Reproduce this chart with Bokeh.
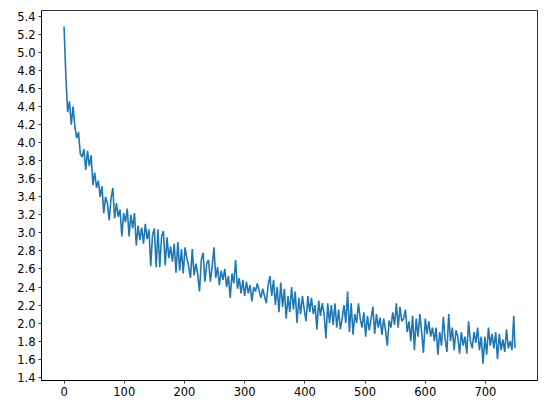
from bokeh.plotting import figure
from bokeh.models import Range1d, FixedTicker, ColumnDataSource, PrintfTickFormatter
from bokeh.embed import file_html
from bokeh.resources import INLINE

# training steps (every 3rd step sampled, plus the last one)
steps = list(range(0, 750, 3)) + [749]

loss = [
    5.29, 4.74, 4.34, 4.46, 4.20, 4.40, 4.18, 4.05, 4.12, 3.88,
    3.84, 3.93, 3.70, 3.91, 3.74, 3.86, 3.53, 3.67, 3.50, 3.58,
    3.40, 3.52, 3.22, 3.40, 3.33, 3.14, 3.38, 3.50, 3.16, 3.33,
    3.18, 3.26, 2.96, 3.22, 3.12, 3.27, 2.96, 3.20, 3.05, 3.22,
    2.86, 3.08, 2.92, 3.06, 2.88, 3.10, 2.93, 3.04, 2.63, 2.98,
    3.05, 2.62, 3.04, 2.62, 2.96, 3.02, 2.64, 2.95, 2.72, 2.85,
    2.68, 2.88, 2.56, 2.90, 2.58, 2.82, 2.55, 2.84, 2.72, 2.63,
    2.50, 2.82, 2.53, 2.66, 2.54, 2.35, 2.70, 2.78, 2.46, 2.66,
    2.70, 2.46, 2.62, 2.84, 2.50, 2.62, 2.42, 2.58, 2.48, 2.60,
    2.40, 2.52, 2.28, 2.55, 2.44, 2.70, 2.38, 2.50, 2.33, 2.48,
    2.30, 2.46, 2.33, 2.42, 2.24, 2.40, 2.35, 2.44, 2.36, 2.28,
    2.38, 2.30, 2.22, 2.42, 2.52, 2.30, 2.48, 2.20, 2.40, 2.12,
    2.45, 2.18, 2.38, 2.05, 2.30, 2.12, 2.40, 2.15, 2.35, 2.00,
    2.28, 2.10, 2.30, 2.15, 2.02, 2.30, 2.12, 2.28, 2.10, 2.20,
    1.93, 2.25, 2.08, 2.22, 2.10, 1.83, 2.22, 2.00, 2.20, 1.98,
    2.22, 1.95, 2.15, 1.93, 2.05, 2.20, 2.00, 2.35, 1.90, 2.22,
    1.87, 2.10, 2.00, 2.22, 2.05, 1.95, 2.12, 1.85, 2.08, 1.92,
    2.05, 2.18, 1.88, 2.10, 1.95, 2.06, 1.87, 2.05, 1.92, 1.75,
    2.03, 1.95, 2.12, 1.98, 2.22, 1.95, 2.18, 2.02, 2.05, 2.15,
    1.90, 2.02, 1.80, 2.08, 1.70, 2.05, 1.85, 2.10, 1.90, 1.67,
    2.05, 1.88, 2.02, 1.85, 1.95, 1.80, 1.95, 1.65, 1.90, 1.75,
    2.07, 1.82, 1.68, 2.10, 1.80, 1.95, 1.70, 1.92, 1.85, 1.66,
    1.90, 1.75, 1.85, 1.66, 2.02, 1.80, 1.72, 1.90, 1.78, 1.95,
    1.70, 1.85, 1.55, 1.85, 1.65, 1.95, 1.75, 1.88, 1.72, 1.90,
    1.60, 1.88, 1.70, 1.82, 1.68, 1.93, 1.72, 1.80, 1.70, 2.08,
    1.72,
]

x_ticks = [0, 100, 200, 300, 400, 500, 600, 700]
y_ticks = [1.4, 1.6, 1.8, 2.0, 2.2, 2.4, 2.6, 2.8, 3.0, 3.2, 3.4,
           3.6, 3.8, 4.0, 4.2, 4.4, 4.6, 4.8, 5.0, 5.2, 5.4]

src = ColumnDataSource(dict(x=steps, y=loss))

p = figure(width=547, height=413, output_backend="svg", toolbar_location=None,
           x_range=Range1d(-37.45, 786.45), y_range=Range1d(1.363, 5.467),
           min_border_left=41, min_border_right=10, min_border_top=10,
           min_border_bottom=33)

p.line("x", "y", source=src, line_color="#1f77b4", line_width=1.6)

p.grid.visible = False
p.outline_line_color = "black"
p.outline_line_width = 0.8
p.outline_line_alpha = 1.0
p.background_fill_color = "white"
p.border_fill_color = "white"

p.xaxis.ticker = FixedTicker(ticks=x_ticks)
p.yaxis.ticker = FixedTicker(ticks=y_ticks)
p.yaxis.formatter = PrintfTickFormatter(format="%.1f")
for ax in (p.xaxis, p.yaxis):
    ax.axis_line_color = "black"
    ax.axis_line_width = 0.8
    ax.major_tick_line_color = "black"
    ax.major_tick_line_width = 0.8
    ax.major_tick_in = 0
    ax.major_tick_out = 3
    ax.minor_tick_line_color = None
    ax.major_label_text_font = "DejaVu Sans"
    ax.major_label_text_font_size = "11.5px"
    ax.major_label_text_color = "black"
    ax.major_label_standoff = 3

with open("out.html", "w") as f:
    f.write(file_html(p, INLINE))
